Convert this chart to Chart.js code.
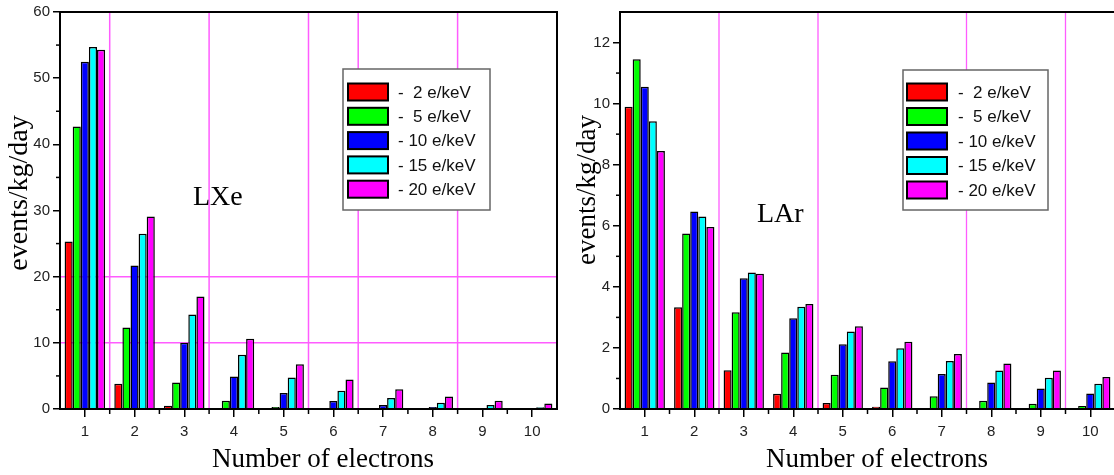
<!DOCTYPE html>
<html><head><meta charset="utf-8">
<script src="https://cdn.jsdelivr.net/npm/chart.js@4.4.1/dist/chart.umd.min.js"></script>
<style>
html,body{margin:0;padding:0;background:#fff;overflow:hidden;width:1114px;height:475px;}
#c1{position:absolute;left:0;top:0;}
#c2{position:absolute;left:560px;top:0;}
</style></head><body>
<canvas id="c1" width="570" height="475"></canvas>
<canvas id="c2" width="560" height="475"></canvas>
<script>
// ---- data ----
const categories = ['1','2','3','4','5','6','7','8','9','10'];
const seriesLabels = ['-  2 e/keV', '-  5 e/keV', '- 10 e/keV', '- 15 e/keV', '- 20 e/keV'];
const seriesColors = ['#ff0000', '#00ff00', '#0000ff', '#00ffff', '#ff00ff'];

const lxe2  = [25.3, 3.8, 0.5, 0.05, 0.02, 0, 0, 0, 0, 0];
const lxe5  = [42.7, 12.3, 4.0, 1.25, 0.3, 0.05, 0.02, 0.01, 0, 0];
const lxe10 = [52.5, 21.7, 10.0, 4.9, 2.4, 1.2, 0.6, 0.3, 0.1, 0.05];
const lxe15 = [54.7, 26.5, 14.3, 8.2, 4.75, 2.75, 1.65, 0.95, 0.6, 0.25];
const lxe20 = [54.3, 29.1, 17.0, 10.6, 6.75, 4.45, 3.0, 1.9, 1.25, 0.85];

const lar2  = [9.9, 3.33, 1.27, 0.5, 0.2, 0.07, 0.03, 0.01, 0, 0];
const lar5  = [11.45, 5.75, 3.17, 1.85, 1.12, 0.7, 0.42, 0.27, 0.17, 0.1];
const lar10 = [10.55, 6.47, 4.28, 2.97, 2.12, 1.56, 1.15, 0.87, 0.67, 0.51];
const lar15 = [9.42, 6.3, 4.47, 3.35, 2.54, 1.99, 1.57, 1.26, 1.02, 0.83];
const lar20 = [8.45, 5.96, 4.43, 3.44, 2.71, 2.2, 1.8, 1.49, 1.26, 1.05];

const lxeYTicks = [0, 10, 20, 30, 40, 50, 60];
const lxeYMinor = [5, 15, 25, 35, 45, 55];
const larYTicks = [0, 2, 4, 6, 8, 10, 12];
const larYMinor = [1, 3, 5, 7, 9, 11];
const xMinor = [1.5, 2.5, 3.5, 4.5, 5.5, 6.5, 7.5, 8.5, 9.5];

const lxeVGrid = [1.5, 3.5, 5.5, 6.5, 8.5];
const lxeHGrid = [10, 20];
const larVGrid = [2.5, 4.5, 7.5, 9.5];
const larHGrid = [];

const xTitle = 'Number of electrons';
const yTitle = 'events/kg/day';

// ---- plugin ----
const deco = {
  id: 'deco',
  beforeDatasetsDraw(chart, args, o) {
    const {ctx, chartArea: a, scales: {x, y}} = chart;
    ctx.save();
    ctx.beginPath(); ctx.rect(a.left, a.top, a.right - a.left, a.bottom - a.top); ctx.clip();
    ctx.strokeStyle = o.gridColor; ctx.lineWidth = o.gridWidth;
    o.vGrid.forEach(v => {
      const px = x.getPixelForValue(v - 1);
      ctx.beginPath(); ctx.moveTo(px, a.top); ctx.lineTo(px, a.bottom); ctx.stroke();
    });
    o.hGrid.forEach(v => {
      const py = y.getPixelForValue(v);
      ctx.beginPath(); ctx.moveTo(a.left, py); ctx.lineTo(a.right, py); ctx.stroke();
    });
    ctx.restore();
  },
  afterDatasetsDraw(chart, args, o) {
    const {ctx, chartArea: a, scales: {x, y}} = chart;
    ctx.save();
    ctx.strokeStyle = '#000'; ctx.lineWidth = 2;
    ctx.beginPath();
    ctx.moveTo(a.left, a.bottom); ctx.lineTo(a.left, a.top); ctx.lineTo(a.right, a.top); ctx.lineTo(a.right, a.bottom);
    ctx.lineTo(a.left, a.bottom);
    ctx.stroke();
    // minor ticks
    ctx.lineWidth = 1.5;
    o.yMinor.forEach(v => {
      const py = y.getPixelForValue(v);
      ctx.beginPath(); ctx.moveTo(a.left - 4, py); ctx.lineTo(a.left, py); ctx.stroke();
    });
    o.xMinor.forEach(v => {
      const px = x.getPixelForValue(v - 1);
      ctx.beginPath(); ctx.moveTo(px, a.bottom); ctx.lineTo(px, a.bottom + 5); ctx.stroke();
    });
    // titles
    ctx.fillStyle = '#000';
    ctx.font = o.xTitleSize + 'px "Liberation Serif"';
    ctx.textAlign = 'center'; ctx.textBaseline = 'alphabetic';
    ctx.fillText(o.xTitle, o.xTitlePos[0], o.xTitlePos[1]);
    ctx.save();
    ctx.translate(o.yTitlePos[0], o.yTitlePos[1]);
    ctx.rotate(-Math.PI / 2);
    ctx.font = o.yTitleSize + 'px "Liberation Serif"';
    ctx.textBaseline = 'middle';
    ctx.fillText(o.yTitle, 0, 0);
    ctx.restore();
    ctx.font = '28px "Liberation Serif"';
    ctx.textAlign = 'left';
    ctx.fillText(o.tag, o.tagPos[0], o.tagPos[1]);
    // legend
    const L = o.legend;
    ctx.fillStyle = '#fff';
    ctx.fillRect(L.x, L.y, L.w, L.h);
    ctx.strokeStyle = '#666'; ctx.lineWidth = 1.5;
    ctx.strokeRect(L.x, L.y, L.w, L.h);
    ctx.font = '17px "Liberation Sans"';
    ctx.textBaseline = 'middle';
    chart.data.datasets.forEach((ds, i) => {
      const cy = L.y + L.first + i * L.step;
      ctx.fillStyle = ds.backgroundColor;
      ctx.fillRect(L.sx, cy - 8.5, 40, 17);
      ctx.strokeStyle = '#000'; ctx.lineWidth = 2;
      ctx.strokeRect(L.sx, cy - 8.5, 40, 17);
      ctx.fillStyle = '#111';
      ctx.fillText(ds.label, L.tx, cy + 1);
    });
    ctx.restore();
  }
};

function makeChart(id, seriesArr, yTicks, opts) {
  const datasets = seriesArr.map((d, i) => ({
    label: seriesLabels[i],
    data: d,
    backgroundColor: seriesColors[i],
    borderColor: '#000',
    borderWidth: 1.5,
    categoryPercentage: 0.815,
    barPercentage: 1.0
  }));
  return new Chart(document.getElementById(id), {
    type: 'bar',
    data: { labels: categories, datasets },
    plugins: [deco],
    options: {
      responsive: false,
      animation: false,
      devicePixelRatio: 1,
      layout: { padding: opts.padding },
      plugins: {
        legend: { display: false },
        tooltip: { enabled: false },
        deco: opts.deco
      },
      scales: {
        x: {
          grid: { offset: false, drawOnChartArea: false, tickLength: 8, color: '#000', lineWidth: 1.5 },
          border: { color: '#000', width: 2 },
          ticks: { color: '#222', font: { family: 'Liberation Sans', size: 15 }, padding: 6, maxRotation: 0 },
          afterFit(s) { s.height = 66; }
        },
        y: {
          min: 0, max: opts.yMax,
          grid: { drawOnChartArea: false, tickLength: 7, color: '#000', lineWidth: 1.5 },
          border: { color: '#000', width: 2 },
          ticks: { color: '#222', font: { family: 'Liberation Sans', size: 15 }, padding: 3 },
          afterBuildTicks(s) { s.ticks = yTicks.map(v => ({ value: v })); },
          afterFit(s) { s.width = 60; }
        }
      }
    }
  });
}

makeChart('c1', [lxe2, lxe5, lxe10, lxe15, lxe20], lxeYTicks, {
  yMax: 60,
  padding: { left: 0, top: 8, right: 13, bottom: 0 },
  deco: {
    gridColor: '#ff5cff', gridWidth: 1.5,
    vGrid: lxeVGrid, hGrid: lxeHGrid, yMinor: lxeYMinor, xMinor: xMinor,
    xTitle: xTitle, xTitleSize: 27, xTitlePos: [323, 467],
    yTitle: yTitle, yTitleSize: 28, yTitlePos: [20, 193],
    tag: 'LXe', tagPos: [193, 205],
    legend: { x: 343, y: 69, w: 147, h: 141, first: 23, step: 24.3, sx: 348, tx: 398 }
  }
});

makeChart('c2', [lar2, lar5, lar10, lar15, lar20], larYTicks, {
  yMax: 13,
  padding: { left: 0, top: 10, right: 5, bottom: 0 },
  deco: {
    gridColor: '#ff5cff', gridWidth: 1.3,
    vGrid: larVGrid, hGrid: larHGrid, yMinor: larYMinor, xMinor: xMinor,
    xTitle: xTitle, xTitleSize: 27, xTitlePos: [877 - 560, 467],
    yTitle: yTitle, yTitleSize: 27, yTitlePos: [588 - 560, 190],
    tag: 'LAr', tagPos: [757 - 560, 222],
    legend: { x: 343, y: 70, w: 145, h: 140, first: 22, step: 24.5, sx: 347, tx: 398 }
  }
});
</script>
</body></html>
